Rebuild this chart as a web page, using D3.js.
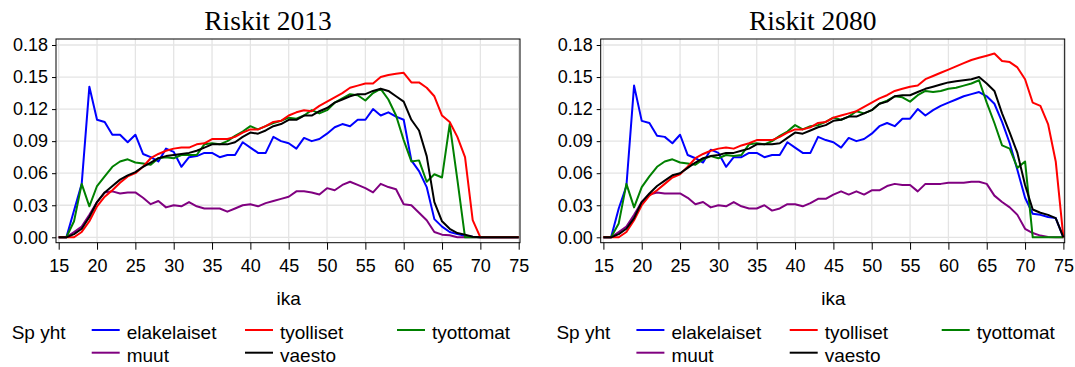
<!DOCTYPE html>
<html>
<head>
<meta charset="utf-8">
<script src="https://cdn.jsdelivr.net/npm/d3@7"></script>
<style>
  html, body { margin: 0; padding: 0; background: #ffffff; }
  svg { display: block; }
</style>
</head>
<body>
<svg id="chart" width="1075" height="367"></svg>
<script>
// Age groups on the x axis (ika)
const ages = [15,16,17,18,19,20,21,22,23,24,25,26,27,28,29,30,31,32,33,34,35,36,37,38,39,40,
  41,42,43,44,45,46,47,48,49,50,51,52,53,54,55,56,57,58,59,60,61,62,63,64,65,66,67,68,69,70,
  71,72,73,74,75];

const xTicks = [15,20,25,30,35,40,45,50,55,60,65,70,75];
const yTicks = [0,0.03,0.06,0.09,0.12,0.15,0.18];

const panelTitles = ["Riskit 2013", "Riskit 2080"];
const seriesNames = ["elakelaiset", "tyolliset", "tyottomat", "muut", "vaesto"];
const legendTitle = "Sp yht";
const xTitle = "ika";

// Riskit 2013
const elakelaiset2013 = [0,0,0.025,0.05,0.141,0.110,0.108,0.096,0.096,0.089,0.096,0.078,0.075,0.071,0.083,0.080,
  0.066,0.075,0.076,0.079,0.079,0.075,0.077,0.077,0.089,0.084,0.079,0.079,0.094,0.090,0.088,0.083,0.093,0.090,
  0.092,0.097,0.103,0.106,0.104,0.110,0.110,0.120,0.114,0.117,0.113,0.110,0.072,0.062,0.047,0.017,0.010,0.005,
  0.003,0.0015,0.0005,0,0,0,0,0,0];
const tyolliset2013 = [0,0,0,0.005,0.015,0.029,0.038,0.044,0.051,0.057,0.060,0.066,0.074,0.078,0.081,0.083,
  0.084,0.084,0.087,0.088,0.092,0.092,0.092,0.094,0.098,0.101,0.101,0.104,0.108,0.109,0.114,0.117,0.119,0.118,
  0.123,0.127,0.131,0.135,0.140,0.142,0.144,0.144,0.150,0.152,0.153,0.154,0.145,0.145,0.140,0.132,0.114,0.108,
  0.094,0.075,0.016,0,0,0,0,0,0];
const tyottomat2013 = [0,0,0.015,0.050,0.029,0.048,0.057,0.066,0.071,0.073,0.070,0.069,0.068,0.074,0.075,0.074,
  0.077,0.077,0.077,0.087,0.088,0.087,0.090,0.095,0.099,0.104,0.101,0.104,0.107,0.109,0.112,0.111,0.114,0.119,
  0.116,0.119,0.126,0.130,0.134,0.133,0.128,0.135,0.139,0.129,0.114,0.091,0.071,0.072,0.052,0.059,0.056,0.106,
  0.054,0,0,0,0,0,0,0,0];
const muut2013 = [0,0,0.005,0.010,0.021,0.033,0.042,0.043,0.041,0.042,0.042,0.037,0.031,0.034,0.028,0.030,
  0.029,0.033,0.029,0.027,0.027,0.027,0.024,0.027,0.030,0.031,0.029,0.032,0.034,0.036,0.038,0.043,0.043,0.042,
  0.040,0.046,0.044,0.049,0.052,0.049,0.046,0.042,0.050,0.047,0.045,0.031,0.030,0.023,0.016,0.005,0.0025,0.002,
  0,0,0,0,0,0,0,0,0];
const vaesto2013 = [0,0,0.003,0.008,0.019,0.033,0.042,0.048,0.054,0.058,0.061,0.066,0.070,0.074,0.076,0.077,
  0.078,0.079,0.081,0.084,0.087,0.087,0.087,0.089,0.094,0.098,0.097,0.100,0.104,0.106,0.110,0.110,0.114,0.114,
  0.118,0.121,0.126,0.129,0.132,0.134,0.134,0.137,0.139,0.137,0.132,0.127,0.110,0.100,0.076,0.033,0.015,0.008,
  0.004,0.0025,0.0006,0,0,0,0,0,0];

// Riskit 2080
const elakelaiset2080 = [0,0,0.027,0.048,0.142,0.109,0.107,0.095,0.094,0.088,0.096,0.077,0.074,0.070,0.082,0.079,
  0.066,0.075,0.075,0.079,0.079,0.075,0.077,0.077,0.089,0.084,0.079,0.079,0.094,0.091,0.089,0.084,0.093,0.090,
  0.092,0.097,0.104,0.107,0.104,0.111,0.111,0.120,0.114,0.119,0.123,0.126,0.129,0.132,0.134,0.136,0.132,0.125,
  0.108,0.088,0.063,0.037,0.022,0.021,0.019,0.018,0];
const tyolliset2080 = [0,0,0,0.005,0.016,0.030,0.039,0.044,0.050,0.056,0.059,0.066,0.074,0.078,0.081,0.083,
  0.084,0.083,0.086,0.088,0.091,0.091,0.091,0.094,0.098,0.101,0.101,0.103,0.107,0.108,0.112,0.114,0.116,0.118,
  0.122,0.126,0.130,0.133,0.137,0.139,0.141,0.142,0.148,0.151,0.154,0.157,0.160,0.163,0.166,0.168,0.170,0.172,
  0.165,0.164,0.159,0.148,0.126,0.123,0.106,0.071,0];
const tyottomat2080 = [0,0,0.013,0.050,0.028,0.047,0.057,0.066,0.071,0.073,0.070,0.069,0.068,0.073,0.076,0.074,
  0.077,0.076,0.077,0.087,0.088,0.087,0.090,0.095,0.099,0.105,0.101,0.104,0.105,0.108,0.112,0.110,0.113,0.118,
  0.116,0.119,0.125,0.128,0.132,0.131,0.127,0.133,0.137,0.136,0.137,0.139,0.140,0.142,0.144,0.147,0.126,0.107,
  0.086,0.083,0.065,0.071,0,0,0,0,0];
const muut2080 = [0,0,0.005,0.010,0.021,0.033,0.040,0.042,0.041,0.041,0.041,0.037,0.031,0.033,0.028,0.030,
  0.029,0.033,0.029,0.027,0.027,0.030,0.025,0.027,0.031,0.031,0.029,0.032,0.036,0.036,0.040,0.043,0.040,0.043,
  0.040,0.044,0.044,0.048,0.050,0.049,0.049,0.043,0.050,0.050,0.050,0.051,0.051,0.051,0.052,0.052,0.050,0.039,
  0.033,0.028,0.021,0.008,0.004,0.0016,0.0003,0,0];
const vaesto2080 = [0,0,0.003,0.008,0.018,0.033,0.041,0.048,0.053,0.058,0.060,0.065,0.070,0.074,0.076,0.077,
  0.079,0.079,0.081,0.083,0.087,0.087,0.087,0.088,0.093,0.098,0.097,0.100,0.103,0.105,0.109,0.110,0.113,0.113,
  0.116,0.119,0.125,0.127,0.132,0.133,0.133,0.136,0.139,0.141,0.143,0.145,0.146,0.147,0.148,0.150,0.144,0.137,
  0.116,0.098,0.079,0.049,0.026,0.023,0.021,0.018,0];

const seriesColors = {
  elakelaiset: "#0000ff",
  tyolliset: "#ff0000",
  tyottomat: "#008000",
  muut: "#800080",
  vaesto: "#000000"
};

const panels = [
  { title: panelTitles[0], x0: 0,
    series: { elakelaiset: elakelaiset2013, tyolliset: tyolliset2013, tyottomat: tyottomat2013,
              muut: muut2013, vaesto: vaesto2013 } },
  { title: panelTitles[1], x0: 544.7,
    series: { elakelaiset: elakelaiset2080, tyolliset: tyolliset2080, tyottomat: tyottomat2080,
              muut: muut2080, vaesto: vaesto2080 } }
];

// drawing order: later series sit on top
const drawOrder = ["elakelaiset", "muut", "tyottomat", "tyolliset", "vaesto"];

const svg = d3.select("#chart");
const sans = "'Liberation Sans', Arial, sans-serif";
const serif = "'Liberation Serif', 'Times New Roman', serif";

// plot frame within a panel
const frame = { left: 56, right: 520, top: 39, bottom: 242.7 };

const x = d3.scaleLinear().domain([15, 75]).range([58.7, 518.7]);
const y = d3.scaleLinear().domain([0, 0.18]).range([237.3, 45]);

panels.forEach(p => {
  const g = svg.append("g").attr("transform", `translate(${p.x0},0)`);

  // title
  g.append("text")
    .attr("x", 268).attr("y", 30)
    .attr("text-anchor", "middle")
    .style("font-family", serif).style("font-size", "27.5px")
    .text(p.title);

  // grid
  const grid = g.append("g");
  grid.selectAll("line.gx").data(xTicks).join("line")
    .attr("x1", d => x(d)).attr("x2", d => x(d))
    .attr("y1", frame.top).attr("y2", frame.bottom)
    .attr("stroke", "#e4e4e4").attr("stroke-width", 1.3);
  grid.selectAll("line.gy").data(yTicks).join("line")
    .attr("x1", frame.left).attr("x2", frame.right)
    .attr("y1", d => y(d)).attr("y2", d => y(d))
    .attr("stroke", "#e4e4e4").attr("stroke-width", 1.3);

  // series lines
  const line = d3.line().x((d, i) => x(ages[i])).y(d => y(d));
  drawOrder.forEach(name => {
    g.append("path")
      .datum(p.series[name])
      .attr("d", line)
      .attr("fill", "none")
      .attr("stroke", seriesColors[name])
      .attr("stroke-width", 2)
      .attr("stroke-linejoin", "round");
  });

  // frame
  g.append("rect")
    .attr("x", frame.left).attr("y", frame.top)
    .attr("width", frame.right - frame.left).attr("height", frame.bottom - frame.top)
    .attr("fill", "none").attr("stroke", "#000").attr("stroke-width", 1);

  // axes
  const yAxis = g.append("g")
    .attr("transform", `translate(${frame.left},0)`)
    .call(d3.axisLeft(y).tickValues(yTicks).tickFormat(d3.format(".2f")).tickSize(4).tickPadding(4));
  const xAxis = g.append("g")
    .attr("transform", `translate(0,${frame.bottom})`)
    .call(d3.axisBottom(x).tickValues(xTicks).tickFormat(d3.format("d")).tickSize(7).tickPadding(10));
  [yAxis, xAxis].forEach(a => {
    a.select(".domain").remove();
    a.selectAll("text").style("font-family", sans).style("font-size", "18px").attr("fill", "#000");
    a.selectAll("line").attr("stroke", "#000");
  });

  // x title
  g.append("text")
    .attr("x", 288.7).attr("y", 305)
    .attr("text-anchor", "middle")
    .style("font-family", sans).style("font-size", "19px")
    .text(xTitle);

  // legend
  const leg = g.append("g").style("font-family", sans).style("font-size", "19px");
  leg.append("text").attr("x", 11.7).attr("y", 339).text(legendTitle);
  const cols = [91.7, 245, 397];
  const rows = [330, 352.7];
  const legendItems = [
    { name: seriesNames[0], col: 0, row: 0 },
    { name: seriesNames[1], col: 1, row: 0 },
    { name: seriesNames[2], col: 2, row: 0 },
    { name: seriesNames[3], col: 0, row: 1 },
    { name: seriesNames[4], col: 1, row: 1 }
  ];
  legendItems.forEach(it => {
    const lx = cols[it.col], ly = rows[it.row];
    leg.append("line")
      .attr("x1", lx).attr("x2", lx + 28)
      .attr("y1", ly).attr("y2", ly)
      .attr("stroke", seriesColors[it.name]).attr("stroke-width", 2);
    leg.append("text")
      .attr("x", lx + 35).attr("y", ly + 9)
      .text(it.name);
  });
});
</script>
</body>
</html>
